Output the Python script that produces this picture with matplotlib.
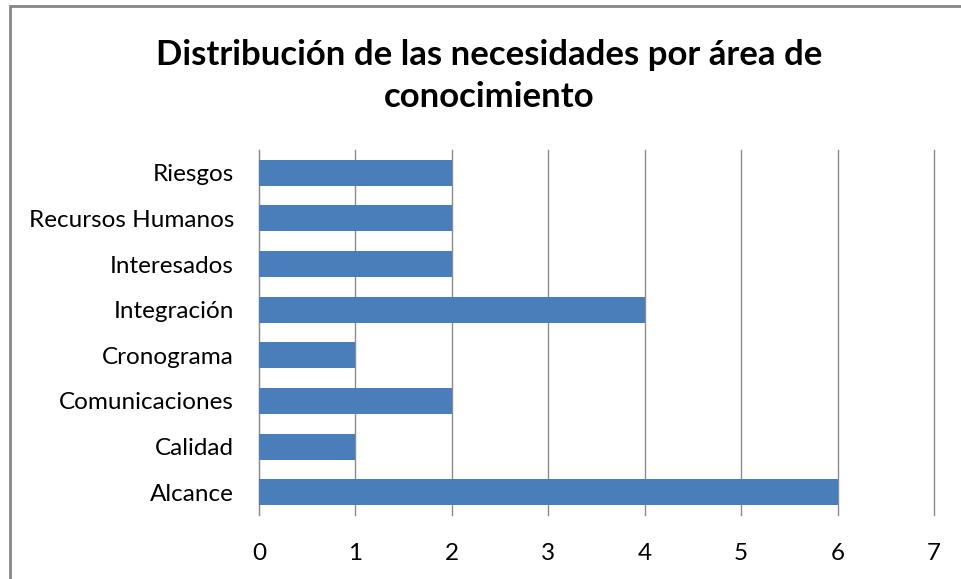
import matplotlib.pyplot as plt
from matplotlib.patches import Rectangle

# --- data ---
areas = ['Alcance', 'Calidad', 'Comunicaciones', 'Cronograma',
         'Integración', 'Interesados', 'Recursos Humanos', 'Riesgos']
needs = [6, 1, 2, 1, 4, 2, 2, 2]
x_ticks = [0, 1, 2, 3, 4, 5, 6, 7]

plt.rcParams['font.family'] = ['Lato', 'DejaVu Sans']

fig = plt.figure(figsize=(9.61, 5.79), dpi=100)
ax = fig.add_axes([259 / 961, 1 - 515 / 579, 675 / 961, 365 / 579])

ax.barh(areas, needs, height=0.57, color='#4a7ebb', zorder=3)

ax.set_xlim(0, 7)
ax.set_ylim(-0.5, len(areas) - 0.5)
ax.set_xticks(x_ticks)
ax.xaxis.grid(True, color='#8c8c8c', linewidth=1)
for gl in ax.get_xgridlines():
    gl.set_clip_on(False)
ax.tick_params(axis='x', length=0, pad=20, labelsize=17.5)
ax.tick_params(axis='y', length=0, pad=18, labelsize=17.5)
for side in ['top', 'right', 'bottom']:
    ax.spines[side].set_visible(False)
ax.spines['left'].set_color('#8c8c8c')

fig.text(0.509, 0.869, 'Distribución de las necesidades por área de\nconocimiento',
         ha='center', va='center', fontsize=25, fontweight='bold',
         linespacing=1.38)

# outer chart border (cropped at right and bottom)
fig.patches.append(Rectangle((10 / 961, -0.1), 1.2, 1.1 - 6 / 579,
                             transform=fig.transFigure, fill=False,
                             edgecolor='#868686', linewidth=2))

fig.savefig('out.png', dpi=100)
